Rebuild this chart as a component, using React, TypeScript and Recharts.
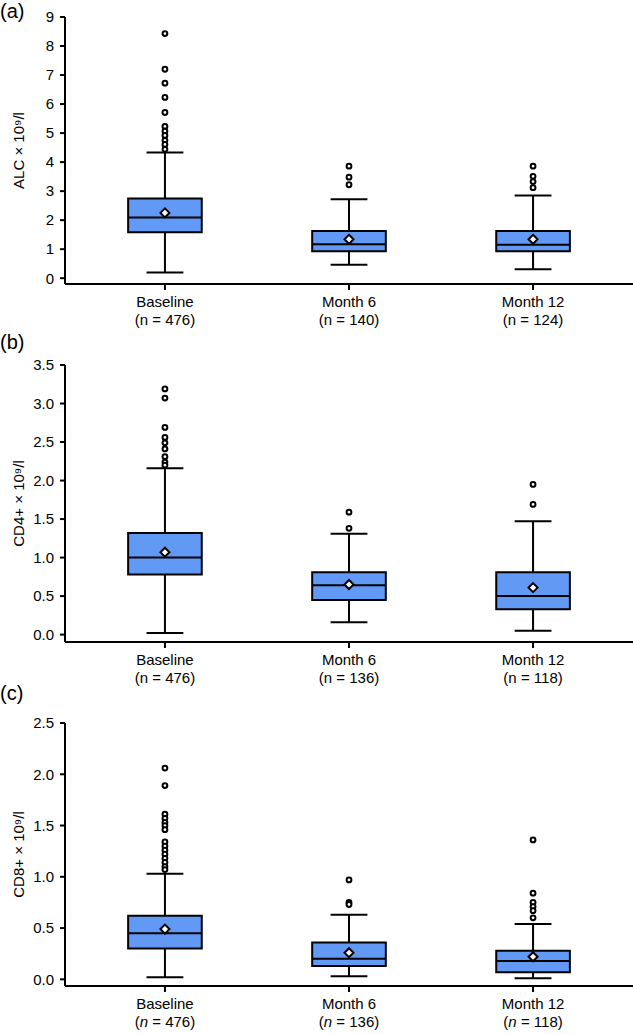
import React from 'react';
import { ComposedChart, XAxis, YAxis, Scatter, ReferenceArea, ReferenceLine } from 'recharts';

const FONT = '"Liberation Sans", Arial, Helvetica, sans-serif';
const BOX_FILL = '#6199f5';

const categories = ['Baseline', 'Month 6', 'Month 12'];

// (a) ALC
const alcN = [476, 140, 124];
const alcQ1 = [1.58, 0.93, 0.93];
const alcMedian = [2.09, 1.17, 1.15];
const alcQ3 = [2.75, 1.63, 1.63];
const alcLow = [0.2, 0.46, 0.31];
const alcHigh = [4.33, 2.72, 2.85];
const alcMean = [2.25, 1.34, 1.34];
const alcOutliers = [
  [8.43, 7.2, 6.72, 6.23, 5.71, 5.23, 5.07, 4.92, 4.75, 4.61, 4.44],
  [3.86, 3.48, 3.22],
  [3.86, 3.51, 3.33, 3.12],
];
const alcTicks = [0, 1, 2, 3, 4, 5, 6, 7, 8, 9];

// (b) CD4+
const cd4N = [476, 136, 118];
const cd4Q1 = [0.78, 0.45, 0.33];
const cd4Median = [1.0, 0.64, 0.5];
const cd4Q3 = [1.32, 0.81, 0.81];
const cd4Low = [0.02, 0.16, 0.05];
const cd4High = [2.16, 1.31, 1.47];
const cd4Mean = [1.07, 0.65, 0.61];
const cd4Outliers = [
  [3.19, 3.07, 2.69, 2.56, 2.49, 2.41, 2.31, 2.24, 2.2],
  [1.59, 1.38],
  [1.95, 1.69],
];
const cd4Ticks = [0, 0.5, 1, 1.5, 2, 2.5, 3, 3.5];

// (c) CD8+
const cd8N = [476, 136, 118];
const cd8Q1 = [0.3, 0.13, 0.07];
const cd8Median = [0.45, 0.2, 0.18];
const cd8Q3 = [0.62, 0.36, 0.28];
const cd8Low = [0.02, 0.03, 0.01];
const cd8High = [1.03, 0.63, 0.54];
const cd8Mean = [0.49, 0.26, 0.22];
const cd8Outliers = [
  [2.06, 1.89, 1.61, 1.57, 1.53, 1.5, 1.46, 1.34, 1.3, 1.26, 1.22, 1.18, 1.14, 1.1, 1.07],
  [0.97, 0.75, 0.73],
  [1.36, 0.84, 0.75, 0.71, 0.67, 0.6],
];
const cd8Ticks = [0, 0.5, 1, 1.5, 2, 2.5];

const XTick = (props: any) => {
  const { x, y, payload, ns, italicN } = props;
  const i = payload.value;
  return (
    <g transform={`translate(${x},${y})`}>
      <text textAnchor="middle" fontSize={15} fill="#000" fontFamily={FONT}>
        <tspan x={0} dy={15}>{categories[i]}</tspan>
        <tspan x={0} dy={18}>
          (<tspan fontStyle={italicN ? 'italic' : 'normal'}>n</tspan> = {ns[i]})
        </tspan>
      </text>
    </g>
  );
};

const YTitle = (props: any) => {
  const { viewBox, text } = props;
  const cx = (viewBox?.x ?? 0) + 18;
  const cy = (viewBox?.y ?? 0) + (viewBox?.height ?? 0) / 2;
  return (
    <text
      x={cx}
      y={cy}
      transform={`rotate(-90 ${cx} ${cy})`}
      textAnchor="middle"
      dominantBaseline="central"
      fontSize={15}
      fill="#000"
      fontFamily={FONT}
    >
      {text}
    </text>
  );
};

const Outlier = (props: any) => (
  <circle cx={props.cx} cy={props.cy} r={2.4} fill="#fff" stroke="#000" strokeWidth={2} />
);

const MeanMark = (props: any) => {
  const { cx, cy } = props;
  const r = 4.5;
  return (
    <polygon
      points={`${cx},${cy - r} ${cx + r},${cy} ${cx},${cy + r} ${cx - r},${cy}`}
      fill="#fff"
      stroke="#000"
      strokeWidth={2}
    />
  );
};

interface PanelProps {
  height: number;
  top: number;
  xHeight: number;
  domain: [number, number];
  ticks: number[];
  decimals: number;
  yTitle: string;
  ns: number[];
  italicN?: boolean;
  q1: number[];
  median: number[];
  q3: number[];
  low: number[];
  high: number[];
  mean: number[];
  outliers: number[][];
}

const BoxPanel: React.FC<PanelProps> = (p) => {
  const outlierPts = p.outliers.flatMap((vals, i) => vals.map((v) => ({ x: i, y: v })));
  const meanPts = p.mean.map((v, i) => ({ x: i, y: v }));
  const line = { stroke: '#000', strokeWidth: 2 };

  return (
    <ComposedChart width={633} height={p.height} margin={{ top: p.top, right: 0, bottom: 0, left: 0 }}>
      <XAxis
        type="number"
        dataKey="x"
        domain={[-0.543, 2.543]}
        ticks={[0, 1, 2]}
        interval={0}
        allowDataOverflow
        height={p.xHeight}
        tickSize={6}
        axisLine={{ stroke: '#000', strokeWidth: 2 }}
        tickLine={{ stroke: '#000', strokeWidth: 2 }}
        tick={<XTick ns={p.ns} italicN={p.italicN} />}
      />
      <YAxis
        type="number"
        dataKey="y"
        domain={p.domain}
        ticks={p.ticks}
        interval={0}
        allowDataOverflow
        width={65}
        tickSize={5}
        tickMargin={6}
        axisLine={{ stroke: '#000', strokeWidth: 2 }}
        tickLine={{ stroke: '#000', strokeWidth: 2 }}
        tick={{ fill: '#000', fontSize: 15, fontFamily: FONT }}
        tickFormatter={(v: number) => v.toFixed(p.decimals)}
        label={<YTitle text={p.yTitle} />}
      />
      {categories.flatMap((_, i) => [
        <ReferenceLine key={`wl${i}`} segment={[{ x: i, y: p.low[i] }, { x: i, y: p.q1[i] }]} {...line} />,
        <ReferenceLine key={`wh${i}`} segment={[{ x: i, y: p.q3[i] }, { x: i, y: p.high[i] }]} {...line} />,
        <ReferenceLine key={`cl${i}`} segment={[{ x: i - 0.1, y: p.low[i] }, { x: i + 0.1, y: p.low[i] }]} {...line} />,
        <ReferenceLine key={`ch${i}`} segment={[{ x: i - 0.1, y: p.high[i] }, { x: i + 0.1, y: p.high[i] }]} {...line} />,
        <ReferenceArea
          key={`bx${i}`}
          x1={i - 0.2}
          x2={i + 0.2}
          y1={p.q1[i]}
          y2={p.q3[i]}
          fill={BOX_FILL}
          fillOpacity={1}
          stroke="#000"
          strokeWidth={2}
        />,
        <ReferenceLine key={`md${i}`} segment={[{ x: i - 0.2, y: p.median[i] }, { x: i + 0.2, y: p.median[i] }]} {...line} />,
      ])}
      <Scatter data={outlierPts} shape={<Outlier />} isAnimationActive={false} />
      <Scatter data={meanPts} shape={<MeanMark />} isAnimationActive={false} />
    </ComposedChart>
  );
};

const panelLabel = (text: string, top: number) => (
  <div style={{ position: 'absolute', left: 0, top, fontSize: 20, lineHeight: 1, fontFamily: FONT }}>{text}</div>
);

export default function App() {
  return (
    <div style={{ position: 'absolute', left: 0, top: 0, width: 633, height: 1034, background: '#fff', fontFamily: FONT }}>
      <div style={{ position: 'absolute', left: 0, top: 0 }}>
        <BoxPanel
          height={330}
          top={17}
          xHeight={46}
          domain={[-0.2, 9]}
          ticks={alcTicks}
          decimals={0}
          yTitle="ALC × 10⁹/l"
          ns={alcN}
          q1={alcQ1}
          median={alcMedian}
          q3={alcQ3}
          low={alcLow}
          high={alcHigh}
          mean={alcMean}
          outliers={alcOutliers}
        />
      </div>
      <div style={{ position: 'absolute', left: 0, top: 330 }}>
        <BoxPanel
          height={360}
          top={35}
          xHeight={48}
          domain={[-0.096, 3.5]}
          ticks={cd4Ticks}
          decimals={1}
          yTitle="CD4+ × 10⁹/l"
          ns={cd4N}
          q1={cd4Q1}
          median={cd4Median}
          q3={cd4Q3}
          low={cd4Low}
          high={cd4High}
          mean={cd4Mean}
          outliers={cd4Outliers}
        />
      </div>
      <div style={{ position: 'absolute', left: 0, top: 690 }}>
        <BoxPanel
          height={344}
          top={33}
          xHeight={48}
          domain={[-0.065, 2.5]}
          ticks={cd8Ticks}
          decimals={1}
          yTitle="CD8+ × 10⁹/l"
          ns={cd8N}
          italicN
          q1={cd8Q1}
          median={cd8Median}
          q3={cd8Q3}
          low={cd8Low}
          high={cd8High}
          mean={cd8Mean}
          outliers={cd8Outliers}
        />
      </div>
      {panelLabel('(a)', 1)}
      {panelLabel('(b)', 332)}
      {panelLabel('(c)', 683)}
    </div>
  );
}
